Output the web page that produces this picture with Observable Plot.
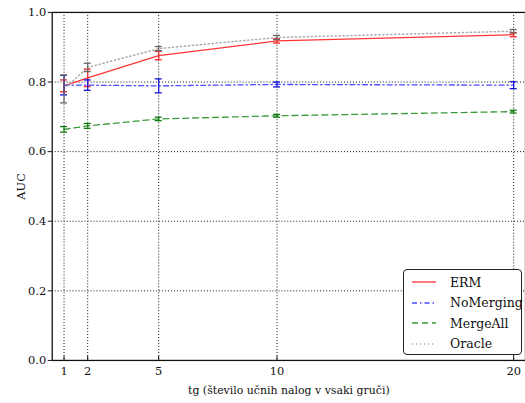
<!DOCTYPE html>
<html>
<head>
<meta charset="utf-8">
<script src="https://cdn.jsdelivr.net/npm/d3@7"></script>
<script src="https://cdn.jsdelivr.net/npm/@observablehq/plot@0.6"></script>
<style>
  body { margin: 0; background: #fff; overflow: hidden; }
  #wrap { position: relative; width: 525px; height: 403px; overflow: hidden; font-family: "DejaVu Serif", serif; }
  #legend {
    position: absolute; left: 403px; top: 269px; width: 117px; height: 84px;
    border: 1px solid #222; border-radius: 4px; background: #fff;
    font-size: 12.5px; color: #111;
  }
  #legend .row { position: absolute; left: 0; height: 20px; display: flex; align-items: center; }
  #legend svg { margin-left: 8px; margin-right: 14px; }
</style>
</head>
<body>
<div id="wrap"><div id="legend"></div></div>
<script>
// Number of training tasks per cluster
const tg = [1, 2, 5, 10, 20];

// Mean AUC and error half-widths per method
const ermMean = [0.789, 0.812, 0.876, 0.918, 0.936];
const ermErr  = [0.017, 0.025, 0.012, 0.006, 0.006];
const noMergingMean = [0.791, 0.791, 0.789, 0.793, 0.791];
const noMergingErr  = [0.028, 0.015, 0.020, 0.007, 0.010];
const mergeAllMean = [0.664, 0.674, 0.694, 0.703, 0.715];
const mergeAllErr  = [0.008, 0.007, 0.005, 0.004, 0.004];
const oracleMean = [0.780, 0.842, 0.896, 0.928, 0.946];
const oracleErr  = [0.040, 0.012, 0.006, 0.006, 0.005];

const yTicks = [0, 0.2, 0.4, 0.6, 0.8, 1.0];
const gridY = [0.2, 0.4, 0.6, 0.8];

const methods = [
  {name: "ERM", mean: ermMean, err: ermErr, stroke: "#ff3535", barStroke: "#ff2020", dash: null, width: 1.3},
  {name: "NoMerging", mean: noMergingMean, err: noMergingErr, stroke: "#4a4aff", barStroke: "#1010dd", dash: "5,3,1.5,3", width: 1.3},
  {name: "MergeAll", mean: mergeAllMean, err: mergeAllErr, stroke: "#3a9a3a", barStroke: "#107a10", dash: "6,4", width: 1.3},
  {name: "Oracle", mean: oracleMean, err: oracleErr, stroke: "#aaaaaa", barStroke: "#666666", dash: "1.2,2.8", width: 1.5}
];

const rows = methods.flatMap(m => tg.map((t, i) => ({
  method: m.name, tg: t, auc: m.mean[i], lo: m.mean[i] - m.err[i], hi: m.mean[i] + m.err[i]
})));

const lineMarks = [];
const barMarks = [];
for (const m of methods) {
  const d = rows.filter(r => r.method === m.name);
  lineMarks.push(Plot.line(d, {x: "tg", y: "auc", stroke: m.stroke, strokeWidth: m.width, strokeDasharray: m.dash}));
  barMarks.push(Plot.ruleX(d, {x: "tg", y1: "lo", y2: "hi", stroke: m.barStroke, strokeWidth: 1.2}));
  barMarks.push(Plot.ruleY(d, {y: "lo", x1: "tg", x2: "tg", insetLeft: -3.5, insetRight: -3.5, stroke: m.barStroke, strokeWidth: 1.3}));
  barMarks.push(Plot.ruleY(d, {y: "hi", x1: "tg", x2: "tg", insetLeft: -3.5, insetRight: -3.5, stroke: m.barStroke, strokeWidth: 1.3}));
}

const chart = Plot.plot({
  width: 528,
  height: 403,
  marginLeft: 52,
  marginRight: 0,
  marginTop: 12,
  marginBottom: 41,
  style: {fontFamily: "DejaVu Serif, serif", fontSize: "11px", color: "#111", background: "#fff"},
  x: {domain: [0.5, 20.5]},
  y: {domain: [0, 1]},
  marks: [
    Plot.ruleX(tg, {x: d => d, stroke: "#111", strokeDasharray: "1,2", strokeWidth: 1}),
    Plot.ruleY(gridY, {y: d => d, stroke: "#111", strokeDasharray: "1,2", strokeWidth: 1}),
    ...lineMarks,
    ...barMarks,
    Plot.ruleX(tg, {x: d => d, y1: 0, y2: 0.012, stroke: "#111", strokeWidth: 1}),
    Plot.axisX({ticks: tg, tickFormat: d => String(d), tickSize: 0, tickPadding: 6, fontSize: 11.5, label: null}),
    Plot.axisX({ticks: [], label: "tg (število učnih nalog v vsaki gruči)", labelAnchor: "center", labelArrow: "none", labelOffset: 34, fontSize: 11}),
    Plot.axisY({ticks: yTicks, tickFormat: d3.format(".1f"), tickSize: 4, tickPadding: 2,
      label: "AUC", labelAnchor: "center", labelArrow: "none", labelOffset: 36, fontSize: 11.5}),
    Plot.frame({stroke: "#111", strokeWidth: 1.3})
  ]
});
document.getElementById("wrap").prepend(chart);

// Legend
const legend = document.getElementById("legend");
methods.forEach((m, i) => {
  const row = document.createElement("div");
  row.className = "row";
  row.style.top = (2 + i * 20.5) + "px";
  row.innerHTML = `<svg width="24" height="6"><line x1="0" y1="3" x2="24" y2="3" stroke="${m.stroke}" stroke-width="${m.width}" ${m.dash ? `stroke-dasharray="${m.dash}"` : ""}/></svg><span>${m.name}</span>`;
  legend.appendChild(row);
});
</script>
</body>
</html>
